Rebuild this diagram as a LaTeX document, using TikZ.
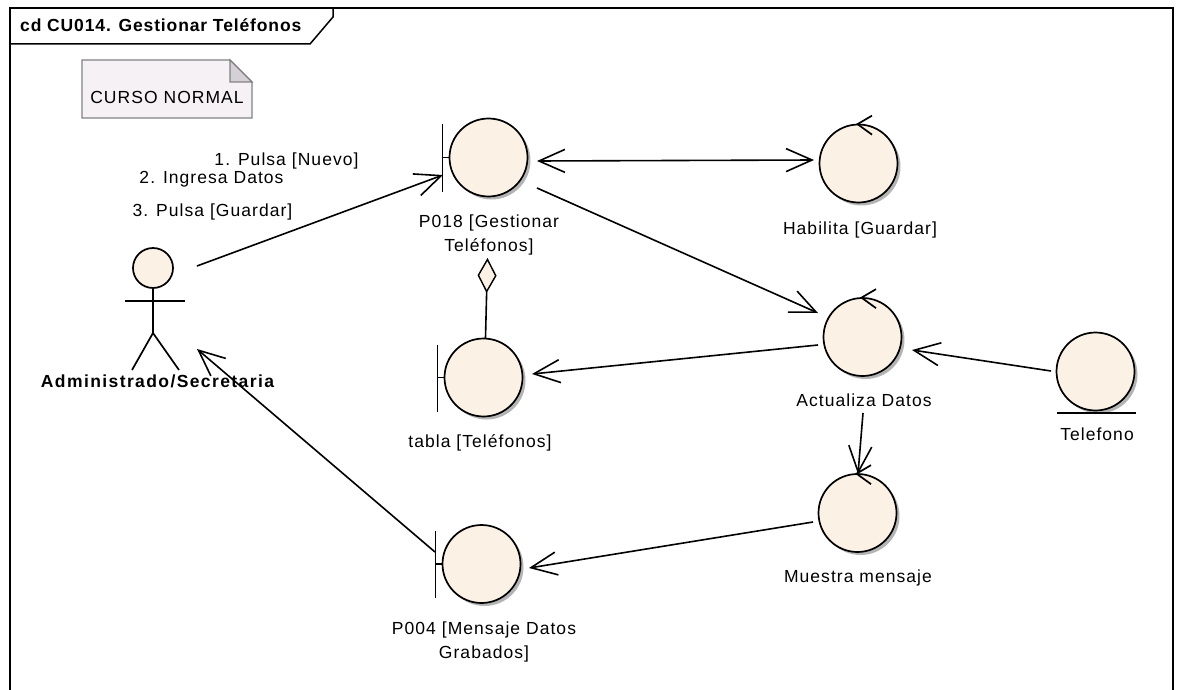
\documentclass[tikz,border=0pt]{standalone}
\usepackage{fontspec}
\setmainfont{Liberation Sans}
\newfontfamily\lblfont[LetterSpace=6]{Liberation Sans}
\usetikzlibrary{arrows.meta,calc,shadows}
\definecolor{cream}{RGB}{251,241,228}
\definecolor{shadowgray}{RGB}{180,180,180}
\definecolor{notefill}{RGB}{245,241,245}
\definecolor{notefold}{RGB}{213,208,213}
\definecolor{noteline}{RGB}{130,130,130}
\tikzset{
  elem/.style={circle, draw, line width=1.7pt, fill=cream, minimum size=78pt, inner sep=0pt,
    drop shadow={shadow xshift=3pt, shadow yshift=-3pt, fill=shadowgray, opacity=1}},
  lbl/.style={font=\lblfont\fontsize{17.5}{24}\selectfont, align=center, inner sep=0pt},
  conn/.style={line width=1.6pt},
  arr/.style={conn, -{Straight Barb[length=26pt,width=23pt,line width=1.6pt]}},
  barb2/.style={conn, {Straight Barb[length=26pt,width=23pt,line width=1.6pt]}-{Straight Barb[length=26pt,width=23pt,line width=1.6pt]}},
  agg/.style={conn, -{Diamond[length=35pt,width=19pt,fill=cream,line width=1.4pt]}},
  glyph/.style={line width=1.7pt}
}
\begin{document}
\begin{tikzpicture}[x=1pt,y=-1pt]
\useasboundingbox (0,0) rectangle (1181,690);
\clip (0,0) rectangle (1181,690);
\fill[white] (0,0) rectangle (1181,690);

% frame
\draw[line width=1.8pt] (10,700) -- (10,8) -- (1173,8) -- (1173,700);
\draw[line width=1.5pt] (10,44) -- (310,44) -- (333,17) -- (333,8);
\node[lbl, font=\lblfont\fontsize{17.5}{24}\selectfont\bfseries\addfontfeature{LetterSpace=5}, anchor=base west] (title) at (20,32) {cd CU014. Gestionar Teléfonos};

% note
\draw[noteline, line width=1.1pt, fill=notefill] (82,60) -- (230,60) -- (252,82) -- (252,118) -- (82,118) -- cycle;
\draw[noteline, line width=1.1pt, fill=notefold] (230,60) -- (230,82) -- (252,82) -- cycle;
\node[lbl, anchor=base] (note) at (167,104) {CURSO NORMAL};

% actor
\node[circle, draw, line width=1.7pt, fill=cream, minimum size=40pt, inner sep=0pt] (head) at (153,268) {};
\draw[glyph] (head.south) -- ($(head)+(0,65)$);
\draw[glyph] ($(head)+(-28,33)$) -- ($(head)+(32,33)$);
\draw[glyph] ($(head)+(-21,102)$) -- ($(head)+(0,65)$) -- ($(head)+(26,102)$);
\node[lbl, font=\lblfont\fontsize{17.5}{24}\selectfont\bfseries\addfontfeature{LetterSpace=8}, anchor=base] (actorl) at (157.5,387) {Administrado/Secretaria};

% elements
\node[elem] (p018) at (488.5,157.5) {};
\node[elem] (hab) at (858.5,163.5) {};
\node[elem] (act) at (862.5,337) {};
\node[elem] (tel) at (1095.5,371.5) {};
\node[elem] (tabla) at (483.5,377.5) {};
\node[elem] (mues) at (857.5,513) {};
\node[elem] (p004) at (481.5,564) {};

% boundary bars
\foreach \b in {p018,tabla,p004}{
  \draw[glyph] ($(\b)+(-46,-33)$) -- ($(\b)+(-46,34)$);
  \draw[glyph] ($(\b)+(-46,0)$) -- (\b.west);
}
% control chevrons
\foreach \c in {hab,act,mues}{
  \draw[glyph] ($(\c.north)+(13.5,-8)$) -- ($(\c.north)+(-1,0.5)$) -- ($(\c.north)+(13.5,11)$);
}
% entity underline
\draw[glyph] ($(tel)+(-38.5,41.5)$) -- ($(tel)+(40.5,41.5)$);

% labels
\node[lbl] (p018l) at (489,234.5) {P018 [Gestionar\\Teléfonos]};
\node[lbl, anchor=base] (habl) at (860,234) {Habilita [Guardar]};
\node[lbl, anchor=base] (actl) at (864,406) {Actualiza Datos};
\node[lbl, anchor=base] (tell) at (1097,440) {Telefono};
\node[lbl, anchor=base] (tablal) at (480,447) {tabla [Teléfonos]};
\node[lbl, anchor=base] (muesl) at (858,582) {Muestra mensaje};
\node[lbl] (p004l) at (484,641.5) {P004 [Mensaje Datos\\Grabados]};

% message labels
\node[lbl, anchor=base] (m1) at (286.5,165) {1. Pulsa [Nuevo]};
\node[lbl, anchor=base] (m2) at (211.5,183) {2. Ingresa Datos};
\node[lbl, anchor=base] (m3) at (212.5,216) {3. Pulsa [Guardar]};

% connectors
\draw[arr] ($(head)+(44,-2)$) -- ($(p018)+(-45.5,17.5)$);
\draw[barb2] ($(p018)+(48.5,3.5)$) -- ($(hab)+(-44.5,-3.5)$);
\draw[arr] ($(p018)+(48.5,30.5)$) -- ($(act)+(-44.5,-24)$);
\draw[arr] ($(act)+(-44.5,8)$) -- ($(tabla)+(48.5,-3.5)$);
\draw[arr] ($(tel)+(-44.5,-0.5)$) -- ($(act)+(49.5,13)$);
\draw[arr] ($(act)+(0.5,76)$) -- ($(mues)+(0.5,-39)$);
\draw[arr] ($(mues)+(-44.5,9)$) -- ($(p004)+(47.5,4)$);
\draw[arr] ($(p004)+(-46.5,-12)$) -- ($(head)+(44,81)$);
\draw[agg] ($(tabla)+(2,-39.5)$) -- ($(p018)+(-1,100.5)$);
\end{tikzpicture}
\end{document}
